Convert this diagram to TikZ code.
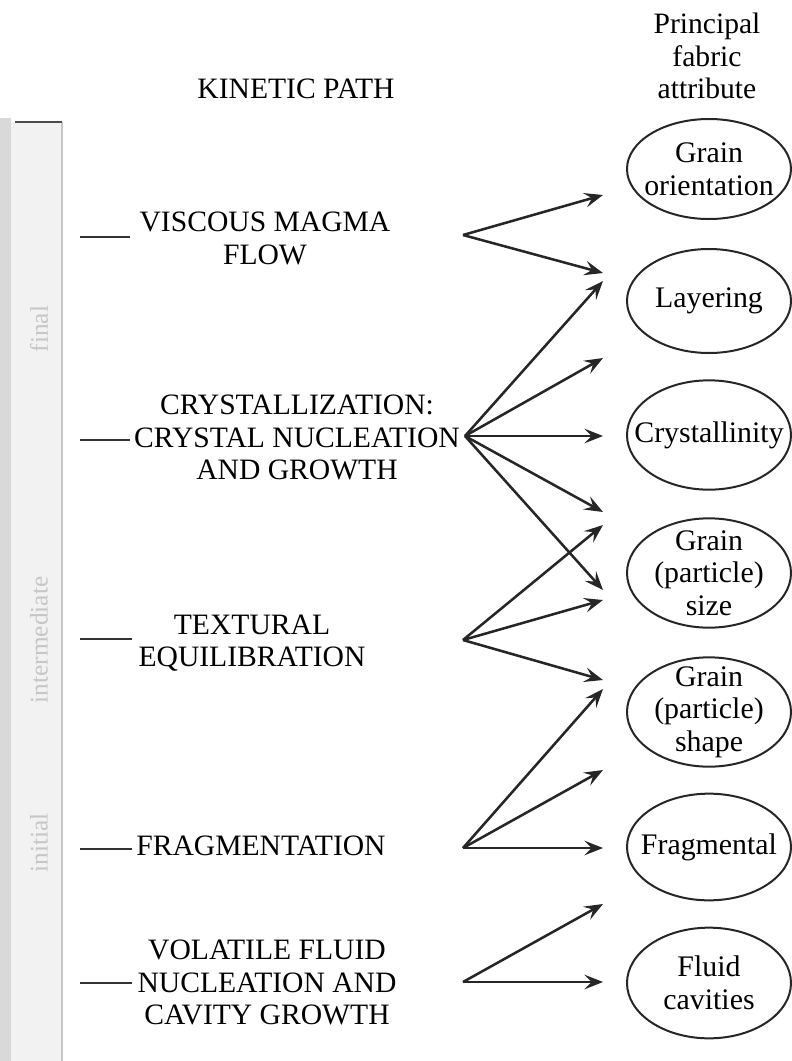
\documentclass[tikz,border=0pt]{standalone}
\usepackage{fontspec}
\setmainfont{Liberation Serif}
\usetikzlibrary{arrows.meta,shapes.geometric}
\begin{document}
\begin{tikzpicture}[x=0.75pt,y=-0.75pt,
  lbl/.style={font=\fontsize{22.2}{24.5}\selectfont, align=center, inner sep=0pt, text=black},
  attr/.style={ellipse, draw=black!85, line width=1.5pt, minimum width=123pt,
    inner xsep=-14pt, inner ysep=-6pt, align=center,
    font=\fontsize{22.4}{24.5}\selectfont, text=black},
  arr/.style={draw=black!85, line width=1.9pt, -{Stealth[length=14pt,width=11pt,inset=5.5pt]}},
  tickline/.style={draw=black!80, line width=1.4pt},
  barword/.style={rotate=90, text=gray!45, font=\fontsize{19}{19}\selectfont, inner sep=0pt},
]
\useasboundingbox (0,0) rectangle (792,1061);

% time bar on the left
\fill[gray!30] (0,118) rectangle (11,1061);
\fill[gray!10] (11,122) rectangle (62,1061);
\draw[gray!45, line width=0.8pt] (62,122) -- (62,1061);
\draw[black!70, line width=1.5pt] (15,122) -- (62,122);
\node[barword] (wfinal) at (39,329) {final};
\node[barword] (winter) at (39,640) {intermediate};
\node[barword] (winit) at (39,843) {initial};

% headings
\node[lbl] (kin) at (296,89) {KINETIC PATH};
\node[lbl] (head) at (707,56) {Principal\\fabric\\attribute};

% kinetic path labels
\node[lbl] (L1) at (265,238.5) {VISCOUS MAGMA\\FLOW};
\node[lbl] (L2) at (297,437.5) {CRYSTALLIZATION:\\CRYSTAL NUCLEATION\\AND GROWTH};
\node[lbl] (L3) at (252,643) {TEXTURAL\\EQUILIBRATION};
\node[lbl] (L4) at (261,846) {FRAGMENTATION};
\node[lbl] (L5) at (267,982.5) {VOLATILE FLUID\\NUCLEATION AND\\CAVITY GROWTH};

% fabric attributes
\node[attr, minimum height=75pt] (A1) at (709,169) {Grain\\orientation};
\node[attr, minimum height=78pt] (A2) at (709,301) {Layering};
\node[attr, minimum height=82pt] (A3) at (709,435) {Crystallinity};
\node[attr, minimum height=82pt] (A4) at (709,573) {Grain\\(particle)\\size};
\node[attr, minimum height=82pt] (A5) at (709,712) {Grain\\(particle)\\shape};
\node[attr, minimum height=80pt] (A6) at (709,847) {Fragmental};
\node[attr, minimum height=83pt] (A7) at (709,983) {Fluid\\cavities};

% ticks from bar to labels
\coordinate (b1) at (80,237);  \coordinate (e1) at (130,237);
\coordinate (b2) at (80,440);  \coordinate (e2) at (130,440);
\coordinate (b3) at (80,639);  \coordinate (e3) at (132,639);
\coordinate (b4) at (80,849);  \coordinate (e4) at (132,849);
\coordinate (b5) at (80,983);  \coordinate (e5) at (132,983);
\foreach \i in {1,...,5} {\draw[tickline] (b\i) -- (e\i);}

% arrow origins
\coordinate (o1) at (463,235);
\coordinate (o2) at (465,436);
\coordinate (o3) at (463,640);
\coordinate (o4) at (463,848);
\coordinate (o5) at (463,982);

% arrow tips
\coordinate (t1a) at (603,195);
\coordinate (t1b) at (603,273);
\coordinate (t2a) at (603,281);
\coordinate (t2b) at (603,358);
\coordinate (t2c) at (603,436);
\coordinate (t2d) at (603,512);
\coordinate (t2e) at (603,590);
\coordinate (t3a) at (603,525);
\coordinate (t3b) at (603,600);
\coordinate (t3c) at (603,680);
\coordinate (t4a) at (603,689);
\coordinate (t4b) at (603,770);
\coordinate (t4c) at (603,848);
\coordinate (t5a) at (603,904);
\coordinate (t5b) at (603,982);

\foreach \t in {t1a,t1b} {\draw[arr] (o1) -- (\t);}
\foreach \t in {t2a,t2b,t2c,t2d,t2e} {\draw[arr] (o2) -- (\t);}
\foreach \t in {t3a,t3b,t3c} {\draw[arr] (o3) -- (\t);}
\foreach \t in {t4a,t4b,t4c} {\draw[arr] (o4) -- (\t);}
\foreach \t in {t5a,t5b} {\draw[arr] (o5) -- (\t);}
\end{tikzpicture}
\end{document}
